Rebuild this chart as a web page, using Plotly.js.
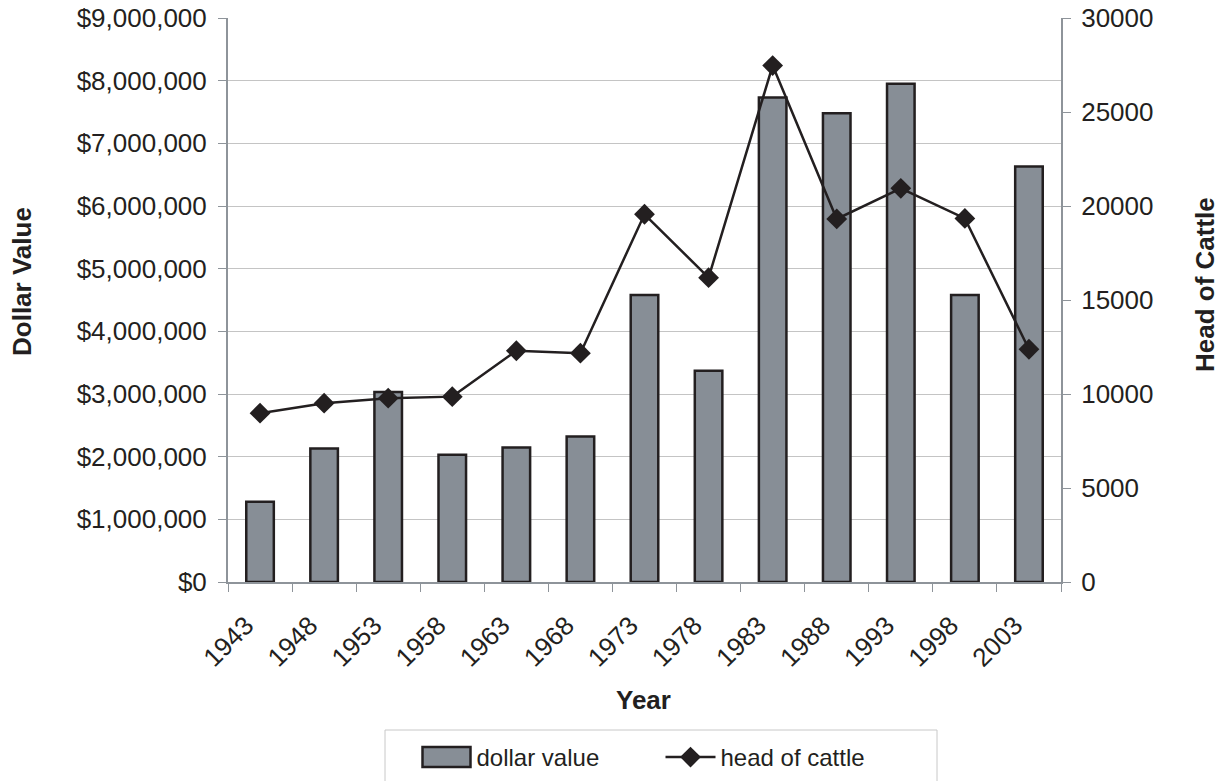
<!DOCTYPE html>
<html>
<head>
<meta charset="utf-8">
<script src="https://cdn.plot.ly/plotly-3.0.1.min.js"></script>
<style>html,body{margin:0;padding:0;background:#fff;}#chart{width:1220px;height:781px;}</style>
</head>
<body>
<div id="chart"></div>
<script>
const years = ["1943","1948","1953","1958","1963","1968","1973","1978","1983","1988","1993","1998","2003"];
const dollarValue = [1280000, 2130000, 3030000, 2030000, 2145000, 2320000, 4580000, 3370000, 7730000, 7480000, 7950000, 4580000, 6630000];
const headOfCattle = [8980, 9510, 9780, 9860, 12300, 12170, 19560, 16190, 27470, 19310, 20940, 19340, 12380];
const leftTicks = [0, 1000000, 2000000, 3000000, 4000000, 5000000, 6000000, 7000000, 8000000, 9000000];
const leftTickText = leftTicks.map(v => '$' + v.toLocaleString('en-US'));
const rightTicks = [0, 5000, 10000, 15000, 20000, 25000, 30000];
const rightTickText = rightTicks.map(v => String(v));

const ink = '#231f20';
const axisGrey = '#8e949a';
const font = 'Liberation Sans, Arial, sans-serif';

// plot area in pixels (for placing titles / legend frame)
const W = 1220, H = 781, L = 228, R = 159, T = 18, B = 199;
const pw = W - L - R, ph = H - T - B;
const px = x => (x - L) / pw;
const py = y => (H - B - y) / ph;

const traces = [
  {
    type: 'bar', name: 'dollar value', x: years, y: dollarValue,
    marker: {color: '#878e96', line: {color: ink, width: 2.5}},
    yaxis: 'y'
  },
  {
    type: 'scatter', mode: 'lines+markers', name: 'head of cattle', x: years, y: headOfCattle,
    line: {color: ink, width: 2.5},
    marker: {symbol: 'diamond', size: 16, color: ink},
    yaxis: 'y2'
  }
];

const layout = {
  width: W, height: H,
  margin: {l: L, r: R, t: T, b: B, autoexpand: false},
  paper_bgcolor: '#fff', plot_bgcolor: '#fff',
  font: {family: font, size: 26, color: ink},
  bargap: 0.57,
  showlegend: true,
  legend: {
    orientation: 'h', xref: 'container', yref: 'container',
    x: 660.5 / W, xanchor: 'center', y: 1 - 735 / H, yanchor: 'top',
    borderwidth: 0, bgcolor: 'rgba(0,0,0,0)', font: {size: 24, color: ink},
    itemwidth: 50, entrywidth: 179, traceorder: 'normal'
  },
  shapes: [
    {type: 'rect', xref: 'paper', yref: 'paper', x0: px(385), x1: px(937), y0: py(730), y1: py(795),
     line: {color: '#c8c8c8', width: 1}, fillcolor: 'rgba(0,0,0,0)', layer: 'below'}
  ],
  annotations: [
    {text: '<b>Dollar Value</b>', xref: 'paper', yref: 'paper', x: px(22), y: py(282),
     textangle: -90, showarrow: false, xanchor: 'center', yanchor: 'middle', font: {size: 26, color: ink}},
    {text: '<b>Head of Cattle</b>', xref: 'paper', yref: 'paper', x: px(1205), y: py(285),
     textangle: -90, showarrow: false, xanchor: 'center', yanchor: 'middle', font: {size: 26, color: ink}},
    {text: '<b>Year</b>', xref: 'paper', yref: 'paper', x: px(643), y: py(700),
     showarrow: false, xanchor: 'center', yanchor: 'middle', font: {size: 26, color: ink}}
  ],
  xaxis: {
    type: 'category', range: [-0.5, 12.5],
    tickangle: -45, tickson: 'boundaries', ticks: 'outside', ticklen: 8, tickcolor: axisGrey,
    ticklabelstandoff: 16, ticklabelshift: -14,
    showline: true, linecolor: axisGrey, linewidth: 2, showgrid: false,
    tickfont: {size: 26, color: ink}
  },
  yaxis: {
    range: [0, 9000000], tickvals: leftTicks, ticktext: leftTickText,
    ticks: 'outside', ticklen: 8, tickcolor: axisGrey, ticklabelstandoff: 6,
    showline: true, linecolor: axisGrey, linewidth: 2,
    showgrid: true, gridcolor: '#c4c4c4', gridwidth: 1, zeroline: false,
    tickfont: {size: 26, color: ink}
  },
  yaxis2: {
    overlaying: 'y', side: 'right', range: [0, 30000], tickvals: rightTicks, ticktext: rightTickText,
    ticks: 'outside', ticklen: 8, tickcolor: axisGrey, ticklabelstandoff: 5,
    showline: true, linecolor: axisGrey, linewidth: 2, showgrid: false, zeroline: false,
    tickfont: {size: 26, color: ink}
  }
};

Plotly.newPlot('chart', traces, layout, {displayModeBar: false, staticPlot: true}).then(function (gd) {
  // widen the bar legend swatch to a rectangle like the reference
  const paths = gd.querySelectorAll('.legend .traces .legendpoints path');
  paths.forEach(function (p) {
    const d = p.getAttribute('d') || '';
    if (/^M6,6H-6V-6H6Z$/.test(d)) p.setAttribute('d', 'M24,10H-24V-10H24Z');
  });
});
</script>
</body>
</html>
